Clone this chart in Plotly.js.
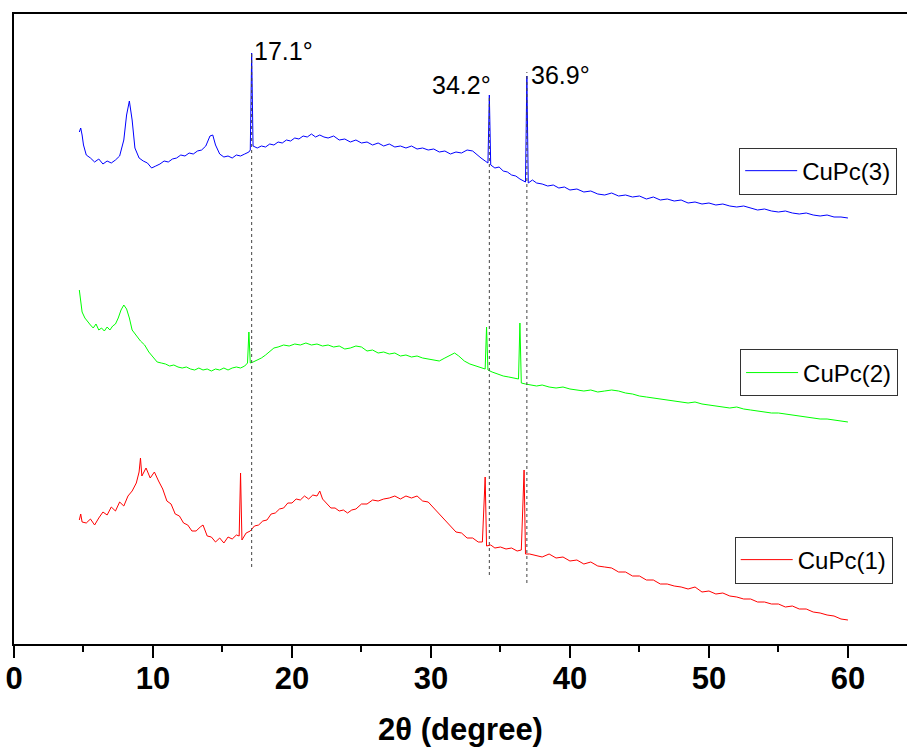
<!DOCTYPE html>
<html><head><meta charset="utf-8">
<script src="https://cdn.plot.ly/plotly-3.0.1.min.js"></script>
<style>html,body{margin:0;padding:0;background:#fff}#chart{width:907px;height:747px}</style>
</head><body><div id="chart"></div>
<script>
// CuPc(3) – blue
const x3 = [4.7,4.8,4.9,5.0,5.2,5.5,5.8,6.1,6.4,6.7,7.0,7.3,7.6,7.9,8.1,8.3,8.5,8.7,9.0,9.3,9.6,9.9,10.2,10.5,10.8,11.1,11.4,11.7,12.0,12.3,12.6,12.9,13.2,13.5,13.8,14.1,14.3,14.5,14.8,15.1,15.4,15.7,16.0,16.3,16.6,16.9,17.0,17.1,17.2,17.5,17.8,18.1,18.4,18.7,19.0,19.3,19.6,19.9,20.2,20.5,20.8,21.1,21.4,21.7,22.0,22.3,22.6,23.0,23.4,23.8,24.2,24.6,25.0,25.4,25.8,26.2,26.6,27.0,27.4,27.8,28.2,28.6,29.0,29.4,29.8,30.2,30.6,31.0,31.4,31.8,32.2,32.6,33.0,33.3,33.6,33.9,34.1,34.2,34.3,34.6,34.9,35.2,35.5,35.8,36.1,36.4,36.7,36.8,36.9,37.0,37.3,37.6,38.0,38.4,38.8,39.2,39.6,40.0,40.5,41.0,41.5,42.0,42.5,43.0,43.5,44.0,44.5,45.0,45.5,46.0,46.5,47.0,47.5,48.0,48.5,49.0,49.5,50.0,50.5,51.0,51.5,52.0,52.5,53.0,53.5,54.0,54.5,55.0,55.5,56.0,56.5,57.0,57.5,58.0,58.5,59.0,59.5,60.0];
const y3 = [512,516,509,499,489,486,482,485,480,483,481,484,488,504,529,543,524,496,486,483,481,476,478,480,483,482,485,486,489,488,491,490,493,494,498,508,509,499,490,487,488,486,489,488,490,492,494,591,498,496,498,497,500,499,502,501,504,503,506,505,508,507,510,507,509,507,506,508,504,505,502,504,501,502,499,501,498,500,497,498,496,498,495,496,494,495,492,493,490,492,491,494,493,489,486,483,481,549,479,476,477,473,472,469,468,465,463,462,568,461,464,461,460,458,459,456,457,454,455,452,453,450,449,451,448,449,447,448,445,447,444,445,443,444,441,442,440,441,439,440,438,437,438,436,434,435,433,432,433,431,430,431,429,428,429,427,427,426];

// CuPc(2) – green
const x2 = [4.7,4.8,4.9,5.1,5.3,5.5,5.7,5.9,6.1,6.3,6.5,6.7,6.9,7.1,7.3,7.5,7.7,7.9,8.1,8.3,8.5,8.8,9.1,9.4,9.7,10.0,10.3,10.6,10.9,11.2,11.5,11.8,12.1,12.4,12.7,13.0,13.3,13.6,13.9,14.2,14.5,14.8,15.1,15.4,15.7,16.0,16.3,16.6,16.8,16.9,17.0,17.2,17.5,17.8,18.1,18.4,18.7,19.0,19.4,19.8,20.2,20.6,21.0,21.4,21.8,22.2,22.6,23.0,23.4,23.8,24.2,24.6,25.0,25.4,25.8,26.2,26.6,27.0,27.4,27.8,28.2,28.6,29.0,29.4,29.8,30.2,30.6,31.0,31.4,31.7,32.0,32.4,32.8,33.2,33.6,33.9,34.0,34.1,34.4,34.8,35.2,35.6,36.0,36.3,36.4,36.5,36.8,37.2,37.6,38.0,38.5,39.0,39.5,40.0,40.5,41.0,41.5,42.0,42.5,43.0,43.5,44.0,44.5,45.0,45.5,46.0,46.5,47.0,47.5,48.0,48.5,49.0,49.5,50.0,50.5,51.0,51.5,52.0,52.5,53.0,53.5,54.0,54.5,55.0,55.5,56.0,56.5,57.0,57.5,58.0,58.5,59.0,59.5,60.0];
const y2 = [354,344,332,326,322,319,316,320,314,316,313,317,314,318,320,326,334,339,335,326,314,308,303,299,292,287,282,281,280,278,279,277,276,277,275,274,276,274,275,273,275,274,276,274,276,277,276,278,281,312,281,282,284,286,289,293,296,297,299,298,300,299,301,299,300,298,299,297,298,295,296,298,297,293,294,291,292,290,291,288,289,287,288,286,285,284,283,286,289,291,288,283,280,278,276,275,317,274,272,270,268,267,266,265,321,261,260,259,258,259,257,256,257,255,254,253,254,252,253,254,253,251,250,248,247,246,245,244,243,242,241,242,240,239,238,237,236,237,235,234,233,232,231,231,230,229,228,227,226,225,225,224,223,222];

// CuPc(1) – red
const x1 = [4.7,4.8,4.9,5.2,5.5,5.8,6.1,6.4,6.7,7.0,7.3,7.6,7.9,8.2,8.5,8.8,9.0,9.1,9.2,9.5,9.8,10.1,10.4,10.7,11.0,11.3,11.6,11.9,12.2,12.5,12.8,13.1,13.4,13.6,13.9,14.2,14.5,14.8,15.1,15.4,15.7,16.0,16.2,16.3,16.4,16.7,17.0,17.3,17.6,17.9,18.2,18.5,18.8,19.1,19.4,19.7,20.0,20.3,20.6,20.9,21.2,21.5,21.8,22.0,22.2,22.5,22.8,23.1,23.4,23.7,24.0,24.3,24.6,25.0,25.4,25.8,26.2,26.6,27.0,27.4,27.8,28.2,28.6,29.0,29.4,29.8,30.2,30.6,31.0,31.4,31.8,32.2,32.6,33.0,33.4,33.7,33.9,34.0,34.3,34.6,35.0,35.4,35.8,36.2,36.5,36.7,36.8,37.1,37.5,38.0,38.5,39.0,39.5,40.0,40.5,41.0,41.5,42.0,42.5,43.0,43.5,44.0,44.5,45.0,45.5,46.0,46.5,47.0,47.5,48.0,48.5,49.0,49.5,50.0,50.5,51.0,51.5,52.0,52.5,53.0,53.5,54.0,54.5,55.0,55.5,56.0,56.5,57.0,57.5,58.0,58.5,59.0,59.5,60.0];
const y1 = [124,130,122,121,125,119,126,132,129,137,133,142,138,148,153,161,172,186,168,176,166,172,163,155,143,140,130,128,121,119,113,113,117,119,108,107,102,106,101,107,105,109,108,171,104,111,113,118,119,123,124,130,131,135,136,141,141,145,144,148,145,149,148,153,145,140,136,136,133,134,131,134,135,140,140,144,143,145,146,148,145,148,146,148,143,142,136,130,124,119,112,111,106,106,102,102,167,98,99,96,97,95,96,93,94,174,90,90,89,87,90,86,87,83,84,80,82,78,77,76,72,72,68,68,64,64,60,60,58,57,55,57,52,53,50,51,48,47,45,45,42,42,40,40,37,38,35,35,32,31,29,28,25,24];

const peakPos = [17.1, 34.2, 36.9];
const peakLabels = ['17.1°', '34.2°', '36.9°'];
const names = ['CuPc(1)', 'CuPc(2)', 'CuPc(3)'];
const xTicks = [0, 10, 20, 30, 40, 50, 60];

const F = 'Arial, "Liberation Sans", sans-serif';

const traces = [
  {x: x3, y: y3, name: names[2], mode: 'lines', line: {color: '#0000ff', width: 1}, legend: 'legend3'},
  {x: x2, y: y2, name: names[1], mode: 'lines', line: {color: '#00ff00', width: 1}, legend: 'legend2'},
  {x: x1, y: y1, name: names[0], mode: 'lines', line: {color: '#ff0000', width: 1}, legend: 'legend'}
];

const legendBase = {
  bgcolor: '#ffffff', bordercolor: '#333333', borderwidth: 1,
  font: {family: F, size: 24, color: '#000'}, xanchor: 'right', yanchor: 'top',
  itemwidth: 52, tracegroupgap: 0
};

const layout = {
  width: 907, height: 747,
  margin: {l: 14, r: 0, t: 14, b: 103},
  paper_bgcolor: '#fff', plot_bgcolor: '#fff',
  showlegend: true,
  legend: Object.assign({}, legendBase, {x: 0.984, y: 0.1706}),
  legend2: Object.assign({}, legendBase, {x: 0.990, y: 0.4675}),
  legend3: Object.assign({}, legendBase, {x: 0.989, y: 0.788}),
  xaxis: {
    range: [0, 64.25], showgrid: false, zeroline: false,
    showline: true, linecolor: '#000', linewidth: 2, mirror: true,
    ticks: 'outside', ticklen: 12, tickwidth: 2, tickcolor: '#000',
    ticklabelstandoff: -6,
    tickvals: xTicks, ticktext: xTicks.map(String),
    minor: {dtick: 5, ticks: 'outside', ticklen: 6, tickwidth: 2, tickcolor: '#000', showgrid: false},
    tickfont: {family: F, size: 31, color: '#000', weight: 'bold'},
    title: {text: '<b>2θ (degree)</b>', font: {family: F, size: 31, color: '#000'}, standoff: 24}
  },
  yaxis: {
    range: [0, 630], showgrid: false, zeroline: false,
    showline: true, linecolor: '#000', linewidth: 2, mirror: false,
    ticks: '', showticklabels: false
  },
  shapes: [
    {type: 'line', xref: 'x', yref: 'y', x0: peakPos[0], x1: peakPos[0], y0: 77, y1: 591, line: {color: '#444', width: 1, dash: 'dot'}},
    {type: 'line', xref: 'x', yref: 'y', x0: peakPos[1], x1: peakPos[1], y0: 69, y1: 549, line: {color: '#444', width: 1, dash: 'dot'}},
    {type: 'line', xref: 'x', yref: 'y', x0: peakPos[2], x1: peakPos[2], y0: 61, y1: 572, line: {color: '#444', width: 1, dash: 'dot'}}
  ],
  annotations: [
    {x: peakPos[0], y: 593, xref: 'x', yref: 'y', text: peakLabels[0], showarrow: false, xanchor: 'left', yanchor: 'middle', xshift: 0, font: {family: F, size: 25, color: '#000'}},
    {x: peakPos[1], y: 559, xref: 'x', yref: 'y', text: peakLabels[1], showarrow: false, xanchor: 'right', yanchor: 'middle', xshift: 4, font: {family: F, size: 25, color: '#000'}},
    {x: peakPos[2], y: 569, xref: 'x', yref: 'y', text: peakLabels[2], showarrow: false, xanchor: 'left', yanchor: 'middle', xshift: 2, font: {family: F, size: 25, color: '#000'}}
  ]
};

Plotly.newPlot('chart', traces, layout, {displayModeBar: false, staticPlot: true});
</script>
</body></html>
